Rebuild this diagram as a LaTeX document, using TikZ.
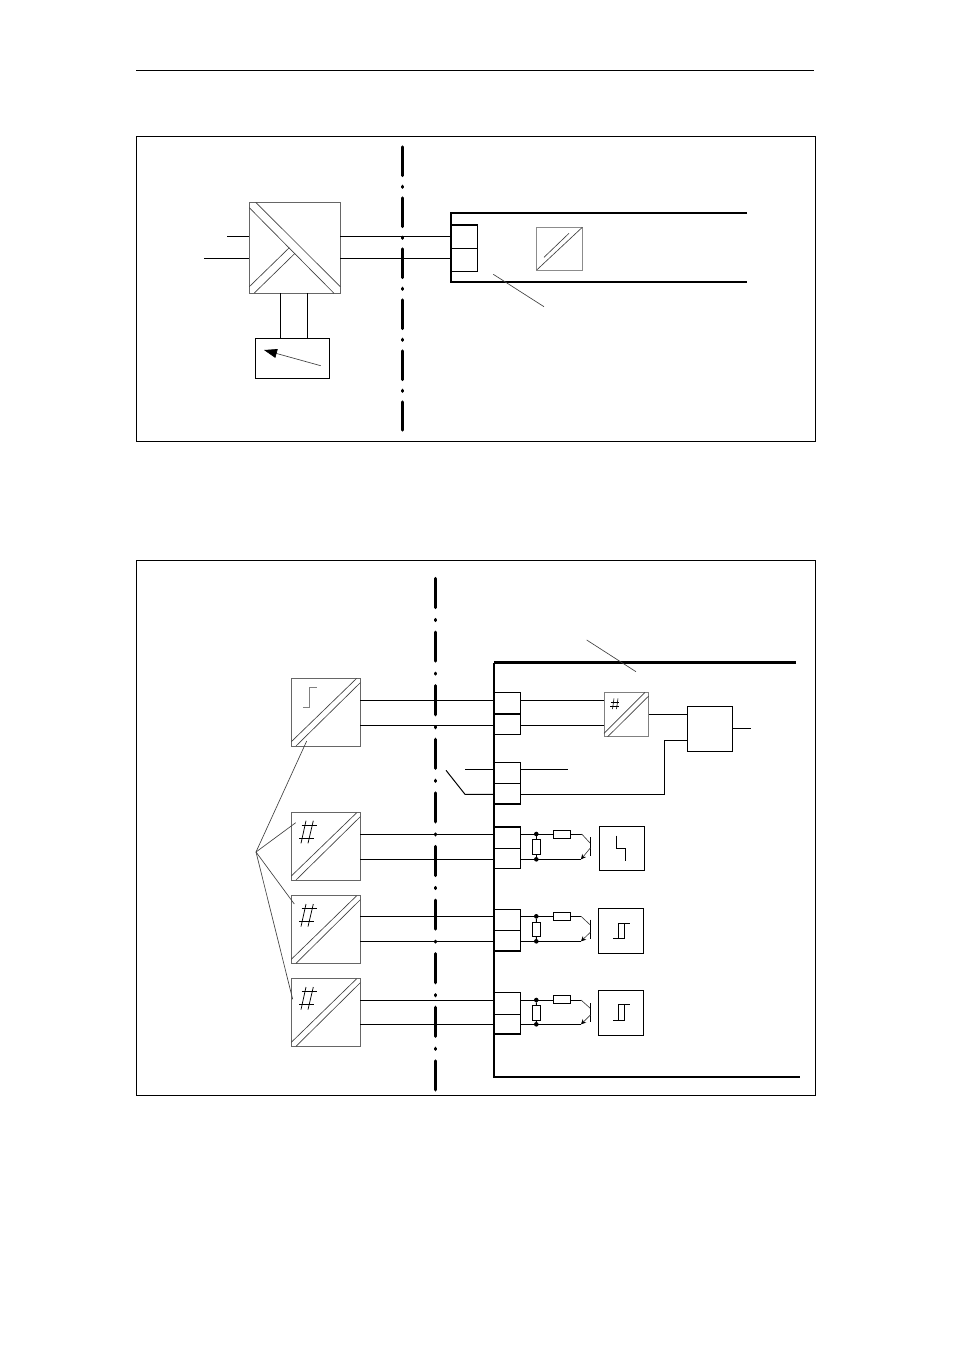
\documentclass[tikz,border=0pt]{standalone}
\usetikzlibrary{arrows.meta}

\begin{document}
\begin{tikzpicture}[x=1pt,y=-1pt]
\tikzstyle{every node}+=[inner sep=0pt,outer sep=0pt]
\tikzstyle{frame}=[draw=black,line width=0.8pt]
\tikzstyle{block}=[draw=black,line width=1pt]
\tikzstyle{conv}=[draw=black!60,line width=1pt]
\tikzstyle{cell}=[draw=black,line width=1.4pt]
\tikzstyle{res}=[draw=black,line width=0.9pt]
\tikzstyle{wire}=[black,line width=1pt]
\tikzstyle{rail}=[black,line width=2.2pt]
\tikzstyle{hair}=[black!75,line width=0.65pt]
\tikzstyle{glyph}=[black,line width=0.75pt]
\tikzstyle{dot}=[circle,fill=black,minimum size=4.6pt]
\tikzstyle{sep}=[black,line width=3.2pt,line cap=round]
\useasboundingbox (0,0) rectangle (954,1350);
\fill [white] (0,0) rectangle (954,1350);
\coordinate (ruleL) at (136,70.5);
\coordinate (ruleR) at (814,70.5);
\draw [black,line width=0.8pt] (ruleL) -- (ruleR);
\node [frame,minimum width=679pt,minimum height=304.5pt] (frameA) at (476,288.75) {};
\node [frame,minimum width=679pt,minimum height=535pt] (frameB) at (476,828) {};

\coordinate (sepAt) at (402.5,147);
\coordinate (sepAb) at (402.5,430);
\draw [sep,dash pattern=on 28.5pt off 10.8pt on 1pt off 10.7pt] (sepAt) -- (sepAb);
\node [conv,minimum width=91pt,minimum height=91pt] (convA) at (294.8,247.8) {};
\draw [hair] (255.7,202.3) -- (340.3,286.7);
\draw [hair] (249.3,207.7) -- (334,293.3);
\draw [hair] (249.3,286.7) -- (289.3,247.7);
\draw [hair] (254.3,293) -- (295,253.3);
\node [block,minimum width=74pt,minimum height=40pt] (meter) at (292.3,358.3) {};
\coordinate (needleA) at (320.7,365.7);
\coordinate (needleB) at (264,350);
\draw [hair,-{Triangle[black,length=13pt,width=9pt]}] (needleA) -- (needleB);
\draw [wire] (convA.south -| 280.3,0) -- (meter.north -| 280.3,0);
\draw [wire] (convA.south -| 307.3,0) -- (meter.north -| 307.3,0);
\coordinate (railAa) at (747,212.7);
\coordinate (railAb) at (451,212.7);
\coordinate (railAc) at (451,282.3);
\coordinate (railAd) at (747,282.3);
\draw [rail,line join=miter] (railAa) -- (railAb) -- (railAc) -- (railAd);
\node [cell,minimum width=26.3pt,minimum height=23.3pt] (tA1) at (464.15,236.65) {};
\node [cell,minimum width=26.3pt,minimum height=23pt] (tA2) at (464.15,259.8) {};
\coordinate (inA1) at (227,236.5);
\coordinate (inA2) at (204,258.5);
\draw [wire] (inA1) -- (inA1 -| convA.west);
\draw [wire] (inA2) -- (inA2 -| convA.west);
\draw [wire] (convA.east |- inA1) -- (inA1 -| tA1.west);
\draw [wire] (convA.east |- inA2) -- (inA2 -| tA2.west);
\node [conv,draw=black!45,minimum width=46.3pt,minimum height=43pt] (convB) at (559.2,248.5) {};
\draw [hair] (536.7,270) -- (582.3,227.3);
\draw [hair] (544,257.3) -- (569,233.3);
\coordinate (markA) at (493.3,274.3);
\coordinate (markB) at (544,306.7);
\draw [hair] (markA) -- (markB);

\coordinate (sepBt) at (435.7,578.5);
\coordinate (sepBb) at (435.7,1090);
\draw [sep,dash pattern=on 29pt off 12pt on 1pt off 11.6pt] (sepBt) -- (sepBb);
\coordinate (railBa) at (796,662.7);
\coordinate (railBb) at (494,662.7);
\coordinate (railBc) at (494,1077);
\coordinate (railBd) at (800,1077);
\draw [rail,line width=2.6pt] (railBa) -- (railBb);
\draw [rail,line width=1.8pt] (railBb) -- (railBc) -- (railBd);
\coordinate (markC) at (586.7,640);
\coordinate (markD) at (636,671.7);
\draw [hair] (markC) -- (markD);

\node [conv,minimum width=69pt,minimum height=67.7pt] (bA) at (325.8,712.2) {};
\draw [hair] (291.3,741.7) -- (356.7,678.3);
\draw [hair] (296,746) -- (360.3,682.7);
\draw [glyph,black!50] (303.3,707.3) -- (309.7,707.3) -- (309.7,687.7) -- (316.7,687.7);
\node [conv,minimum width=69pt,minimum height=67.7pt] (bB) at (325.8,846.2) {};
\draw [hair] (291.3,876) -- (356.7,812.7);
\draw [hair] (296,880) -- (360.3,816.7);
\draw [glyph] (301.7,825) -- (316.7,825);
\draw [glyph] (299.3,838.3) -- (314,838.3);
\draw [glyph] (306,820.7) -- (301,843.3);
\draw [glyph] (313.3,820.7) -- (308,843.3);
\node [conv,minimum width=69pt,minimum height=68pt] (bC) at (325.8,929.3) {};
\draw [hair] (291.3,959.3) -- (356.7,895.7);
\draw [hair] (296,963.3) -- (360.3,899.7);
\draw [glyph] (301.7,908.3) -- (316.7,908.3);
\draw [glyph] (299.3,921.6) -- (314,921.6);
\draw [glyph] (306,904) -- (301,926.6);
\draw [glyph] (313.3,904) -- (308,926.6);
\node [conv,minimum width=69pt,minimum height=68pt] (bD) at (325.8,1012.3) {};
\draw [hair] (291.3,1042.3) -- (356.7,978.7);
\draw [hair] (296,1046.3) -- (360.3,982.7);
\draw [glyph] (301.7,991.3) -- (316.7,991.3);
\draw [glyph] (299.3,1004.6) -- (314,1004.6);
\draw [glyph] (306,987) -- (301,1009.6);
\draw [glyph] (313.3,987) -- (308,1009.6);

\coordinate (hub) at (256,852);
\coordinate (hubA) at (306.7,741);
\coordinate (hubB) at (295.7,822.7);
\coordinate (hubC) at (294.3,904);
\coordinate (hubD) at (292.7,999.3);
\draw [hair] (hub) -- (hubA);
\draw [hair] (hub) -- (hubB);
\draw [hair] (hub) -- (hubC);
\draw [hair] (hub) -- (hubD);

\node [cell,minimum width=26.3pt,minimum height=21.3pt] (t11) at (507.15,703.35) {};
\node [cell,minimum width=26.3pt,minimum height=20.3pt] (t12) at (507.15,724.15) {};
\node [cell,minimum width=26.3pt,minimum height=21pt] (t21) at (507.15,772.8) {};
\node [cell,minimum width=26.3pt,minimum height=20.7pt] (t22) at (507.15,793.65) {};
\node [cell,minimum width=26.3pt,minimum height=21.3pt] (t31) at (507.15,837.65) {};
\node [cell,minimum width=26.3pt,minimum height=20pt] (t32) at (507.15,858.3) {};
\node [cell,minimum width=26.3pt,minimum height=21pt] (t41) at (507.15,919.8) {};
\node [cell,minimum width=26.3pt,minimum height=20.7pt] (t42) at (507.15,940.65) {};
\node [cell,minimum width=26.3pt,minimum height=22pt] (t51) at (507.15,1003.3) {};
\node [cell,minimum width=26.3pt,minimum height=19.7pt] (t52) at (507.15,1024.15) {};

\coordinate (w11) at (520.3,700.3);
\coordinate (w12) at (520.3,725.3);
\coordinate (w21) at (520.3,769);
\coordinate (w22) at (520.3,794.3);
\coordinate (w31) at (520.3,834);
\coordinate (w32) at (520.3,859.3);
\coordinate (w41) at (520.3,916.3);
\coordinate (w42) at (520.3,941.3);
\coordinate (w51) at (520.3,1000);
\coordinate (w52) at (520.3,1024.3);
\draw [wire] (bA.east |- w11) -- (t11.west |- w11);
\draw [wire] (bA.east |- w12) -- (t12.west |- w12);
\draw [wire] (bB.east |- w31) -- (t31.west |- w31);
\draw [wire] (bB.east |- w32) -- (t32.west |- w32);
\draw [wire] (bC.east |- w41) -- (t41.west |- w41);
\draw [wire] (bC.east |- w42) -- (t42.west |- w42);
\draw [wire] (bD.east |- w51) -- (t51.west |- w51);
\draw [wire] (bD.east |- w52) -- (t52.west |- w52);

\node [conv,draw=black!50,minimum width=44.7pt,minimum height=44.4pt] (convC) at (626.35,714.5) {};
\draw [hair] (604,733.3) -- (645,692.3);
\draw [hair] (607.7,736.7) -- (648.7,696);
\draw [black,line width=0.6pt] (610.5,702) -- (619,702);
\draw [black,line width=0.6pt] (610,706) -- (618.5,706);
\draw [black,line width=0.6pt] (614,698.5) -- (612.5,709);
\draw [black,line width=0.6pt] (618,698.5) -- (616.5,709);
\node [block,minimum width=45pt,minimum height=45pt] (logic) at (709.8,728.8) {};
\draw [wire] (w11) -- (convC.west |- w11);
\draw [wire] (w12) -- (convC.west |- w12);
\coordinate (inLogicA) at (687.3,714.3);
\coordinate (inLogicB) at (687.3,740);
\coordinate (outLogic) at (750.7,728.3);
\coordinate (bendA) at (664.3,794.3);
\coordinate (bendB) at (664.3,740);
\draw [wire] (convC.east |- inLogicA) -- (inLogicA);
\draw [wire] (w22) -- (bendA) -- (bendB) -- (inLogicB);
\draw [wire] (logic.east |- outLogic) -- (outLogic);
\coordinate (sw1) at (465,769);
\coordinate (sw2) at (446,770.3);
\coordinate (sw3) at (465,794.3);
\coordinate (out21) at (567.7,769);
\draw [wire] (sw1) -- (t21.west |- sw1);
\draw [wire] (w21) -- (out21);
\draw [wire] (sw2) -- (sw3) -- (t22.west |- sw3);

\node [res,minimum width=17.4pt,minimum height=8pt] (rA) at (562,834.3) {};
\node [res,minimum width=8pt,minimum height=14.7pt] (vA) at (536.3,846.7) {};
\node [block,minimum width=45pt,minimum height=44.3pt] (sA) at (621.8,848.8) {};
\node [dot] (dA1) at (536.3,834) {};
\node [dot] (dA2) at (536.3,859.3) {};
\coordinate (tcA) at (581.7,834);
\coordinate (tdA) at (590.3,843.3);
\coordinate (tbA) at (590.3,837.3);
\coordinate (tfA) at (590.3,856);
\coordinate (tgA) at (590.3,848);
\coordinate (thA) at (581,859.3);
\draw [wire] (w31) -- (rA.west |- w31);
\draw [wire] (rA.east |- w31) -- (tcA);
\draw [hair] (tcA) -- (tdA);
\draw [wire] (tbA) -- (tfA);
\draw [hair,-{Stealth[black,length=5pt,width=5pt]}] (tgA) -- (thA);
\draw [wire] (w32) -- (thA);
\draw [wire] (dA1) -- (vA.north);
\draw [wire] (vA.south) -- (dA2);
\draw [glyph] (616.7,835.7) -- (616.7,848.3) -- (625.3,848.3) -- (625.3,860.7);

\node [res,minimum width=17.4pt,minimum height=8pt] (rB) at (562,916.3) {};
\node [res,minimum width=8.4pt,minimum height=14pt] (vB) at (536.5,929.3) {};
\node [block,minimum width=45pt,minimum height=44.7pt] (sB) at (620.8,930.65) {};
\node [dot] (dB1) at (536.3,916.3) {};
\node [dot] (dB2) at (536.3,941.3) {};
\coordinate (tcB) at (581,916.3);
\coordinate (tdB) at (590.3,925);
\coordinate (tbB) at (590.3,919.7);
\coordinate (tfB) at (590.3,938.7);
\coordinate (tgB) at (590.3,932.3);
\coordinate (thB) at (581,941.3);
\draw [wire] (w41) -- (rB.west |- w41);
\draw [wire] (rB.east |- w41) -- (tcB);
\draw [hair] (tcB) -- (tdB);
\draw [wire] (tbB) -- (tfB);
\draw [hair,-{Stealth[black,length=5pt,width=5pt]}] (tgB) -- (thB);
\draw [wire] (w42) -- (thB);
\draw [wire] (dB1) -- (vB.north);
\draw [wire] (vB.south) -- (dB2);
\draw [glyph] (613.3,938.3) -- (624.7,938.3) -- (624.7,923.3) -- (630,923.3);
\draw [glyph] (618.7,938.3) -- (618.7,923.3) -- (624.7,923.3);

\node [res,minimum width=17.4pt,minimum height=8pt] (rC) at (562,999.3) {};
\node [res,minimum width=8.4pt,minimum height=15pt] (vC) at (536.5,1012.8) {};
\node [block,minimum width=45pt,minimum height=45pt] (sC) at (620.8,1012.8) {};
\node [dot] (dC1) at (536.3,1000) {};
\node [dot] (dC2) at (536.3,1024.3) {};
\coordinate (tcC) at (581,1000);
\coordinate (tdC) at (590.3,1008.3);
\coordinate (tbC) at (590.3,1003.3);
\coordinate (tfC) at (590.3,1022);
\coordinate (tgC) at (590.3,1015);
\coordinate (thC) at (581,1024.3);
\draw [wire] (w51) -- (rC.west |- w51);
\draw [wire] (rC.east |- w51) -- (tcC);
\draw [hair] (tcC) -- (tdC);
\draw [wire] (tbC) -- (tfC);
\draw [hair,-{Stealth[black,length=5pt,width=5pt]}] (tgC) -- (thC);
\draw [wire] (w52) -- (thC);
\draw [wire] (dC1) -- (vC.north);
\draw [wire] (vC.south) -- (dC2);
\draw [glyph] (613.3,1020.3) -- (624.7,1020.3) -- (624.7,1004.3) -- (630,1004.3);
\draw [glyph] (618.7,1020.3) -- (618.7,1004.3) -- (624.7,1004.3);
\end{tikzpicture}
\end{document}
